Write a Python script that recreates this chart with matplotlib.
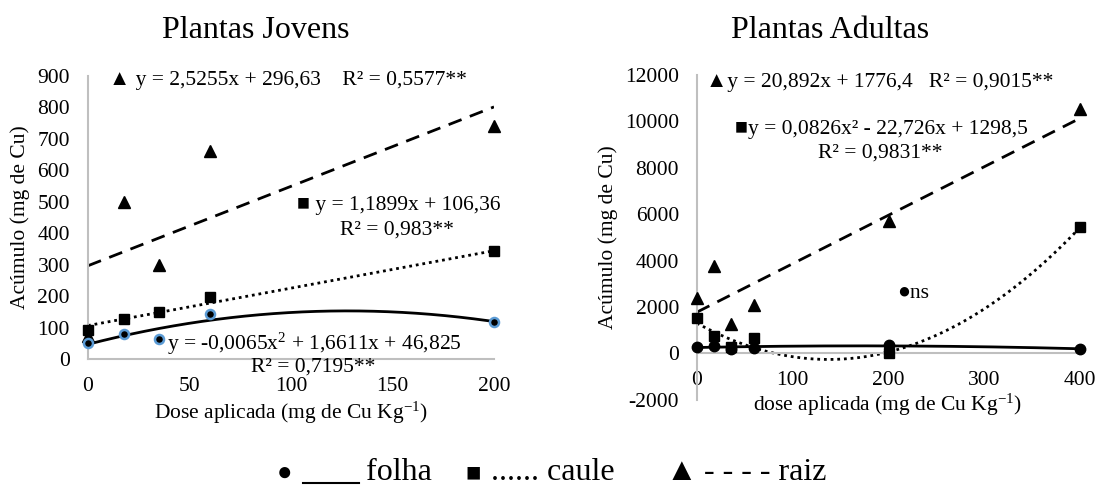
import numpy as np
import matplotlib
matplotlib.use("Agg")
import matplotlib.pyplot as plt
from matplotlib.lines import Line2D

plt.rcParams['font.family'] = ['Liberation Serif', 'DejaVu Serif']
plt.rcParams['mathtext.fontset'] = 'custom'
plt.rcParams['mathtext.rm'] = 'Liberation Serif'
plt.rcParams['mathtext.it'] = 'Liberation Serif:italic'

# ---- data: Plantas Jovens ----
doses_j = [0, 17.5, 35, 60, 200]
folha_j = [52, 78, 63, 143, 118]
caule_j = [92, 126, 148, 197, 342]
raiz_j = [73, 500, 300, 660, 741]
coef_folha_j = [-0.0065, 1.6611, 46.825]
coef_caule_j = [1.1899, 106.36]
coef_raiz_j = [2.5255, 296.63]

# ---- data: Plantas Adultas ----
doses_a = [0, 17.5, 35, 60, 200, 400]
folha_a = [288, 330, 187, 245, 360, 187]
caule_a = [1543, 750, 288, 678, 0, 5451]
raiz_a = [2380, 3778, 1254, 2076, 5696, 10526]
coef_caule_a = [0.0826, -22.726, 1298.5]
coef_raiz_a = [20.892, 1776.4]

yticks_j = [0, 100, 200, 300, 400, 500, 600, 700, 800, 900]
xticks_j = [0, 50, 100, 150, 200]
yticks_a = [-2000, 0, 2000, 4000, 6000, 8000, 10000, 12000]
xticks_a = [0, 100, 200, 300, 400]

W, H = 1100, 496
fig = plt.figure(figsize=(11, 4.96), dpi=100)

def fx(px):
    return px / W

def fy(py):
    return 1 - py / H

FS = 15.5
GRAY = '#BFBFBF'
BLUE = '#5B9BD5'

def style_axes(ax):
    for s in ['top', 'right']:
        ax.spines[s].set_visible(False)
    for s in ['left', 'bottom']:
        ax.spines[s].set_color(GRAY)
        ax.spines[s].set_linewidth(1.5)
    ax.spines['bottom'].set_position(('data', 0))
    ax.tick_params(length=0, labelsize=FS, pad=13)
    ax.patch.set_visible(False)

# ---- left axes ----
ax1 = fig.add_axes([fx(88), fy(359), fx(494 - 88), (359 - 76) / H])
style_axes(ax1)
ax1.set_xlim(0, 200)
ax1.set_ylim(0, 900)
ax1.set_xticks(xticks_j)
ax1.set_yticks(yticks_j)

xs = np.linspace(0, 200, 200)
ax1.plot(xs, np.polyval(coef_raiz_j, xs), color='black', lw=2, dashes=(5, 3.2))
ax1.plot(xs, np.polyval(coef_caule_j, xs), color='black', lw=2, dashes=(1, 1.4))
ax1.plot(xs, np.polyval(coef_folha_j, xs), color='black', lw=2)
ax1.plot(doses_j, raiz_j, '^', color='black', ms=8.5, ls='none', clip_on=False, zorder=5)
ax1.plot(doses_j, caule_j, 's', color='black', ms=7, ls='none', clip_on=False, zorder=5)
ax1.plot(doses_j, folha_j, 'o', mfc='black', mec=BLUE, mew=1.8, ms=6.5, ls='none',
         clip_on=False, zorder=6)

ax1.text(10.4, 887, '▲ y = 2,5255x + 296,63    R² = 0,5577**', fontsize=FS, ha='left', va='center')
ax1.text(103, 489, '■ y = 1,1899x + 106,36', fontsize=FS, ha='left', va='center')
ax1.text(152, 409, 'R² = 0,983**', fontsize=FS, ha='center', va='center')
ax1.text(39, 48, 'y = -0,0065x$^{2}$ + 1,6611x + 46,825', fontsize=FS, ha='left', va='center')
ax1.text(111, -27, 'R² = 0,7195**', fontsize=FS, ha='center', va='center', clip_on=False)

# ---- right axes ----
ax2 = fig.add_axes([fx(697), fy(399.7), fx(1080 - 697), (399.7 - 75) / H])
style_axes(ax2)
ax2.set_xlim(0, 400)
ax2.set_ylim(-2000, 12000)
ax2.set_xticks(xticks_a)
ax2.set_yticks(yticks_a)
ax2.set_xticklabels([str(v) for v in xticks_a])
ax2.set_yticklabels([str(v) for v in yticks_a])

xs2 = np.linspace(0, 400, 300)
coef_folha_a = np.polyfit(doses_a, folha_a, 2)
ax2.plot(xs2, np.polyval(coef_raiz_a, xs2), color='black', lw=2, dashes=(5, 3.2))
ax2.plot(xs2, np.polyval(coef_caule_a, xs2), color='black', lw=2, dashes=(1, 1.4))
ax2.plot(xs2, np.polyval(coef_folha_a, xs2), color='black', lw=2)
ax2.plot(doses_a, raiz_a, '^', color='black', ms=8.5, ls='none', clip_on=False, zorder=5)
ax2.plot(doses_a, caule_a, 's', color='black', ms=7.5, ls='none', clip_on=False, zorder=5)
ax2.plot(doses_a, folha_a, 'o', color='black', ms=7.5, ls='none', clip_on=False, zorder=6)

ax2.text(9, 11683, '▲y = 20,892x + 1776,4   R² = 0,9015**', fontsize=FS, ha='left', va='center')
ax2.text(40, 9664, '■y = 0,0826x² - 22,726x + 1298,5', fontsize=FS, ha='left', va='center')
ax2.text(191, 8654, 'R² = 0,9831**', fontsize=FS, ha='center', va='center')
ax2.text(209, 2596, '●ns', fontsize=FS, ha='left', va='center')

# ---- titles and axis labels ----
fig.text(fx(256), fy(38), 'Plantas Jovens', fontsize=23, ha='center', va='baseline')
fig.text(fx(830), fy(38), 'Plantas Adultas', fontsize=23, ha='center', va='baseline')
fig.text(fx(20), fy(217), 'Acúmulo (mg de Cu)', fontsize=FS, rotation=90, ha='center', va='center')
fig.text(fx(608), fy(237), 'Acúmulo (mg de Cu)', fontsize=FS, rotation=90, ha='center', va='center')
fig.text(fx(291), fy(413), 'Dose aplicada (mg de Cu Kg$^{\\mathrm{-1}}$)', fontsize=FS, ha='center', va='center')
fig.text(fx(888), fy(405), 'dose aplicada (mg de Cu Kg$^{\\mathrm{-1}}$)', fontsize=FS, ha='center', va='center')

# ---- legend ----
LFS = 23
base = fy(480)
fig.text(fx(277), base, '●', fontsize=LFS * 0.8, ha='left', va='baseline')
fig.add_artist(Line2D([fx(303), fx(359)], [fy(483), fy(483)], color='black', lw=1.5))
fig.text(fx(366), base, 'folha', fontsize=LFS, ha='left', va='baseline')
fig.text(fx(465), base, '■', fontsize=LFS * 0.8, ha='left', va='baseline')
fig.text(fx(491), base, '...... caule', fontsize=LFS, ha='left', va='baseline')
fig.text(fx(666), base, '▲', fontsize=LFS, ha='left', va='baseline')
fig.text(fx(704), base, '- - - - raiz', fontsize=LFS, ha='left', va='baseline')

fig.savefig('out.png', dpi=100)
